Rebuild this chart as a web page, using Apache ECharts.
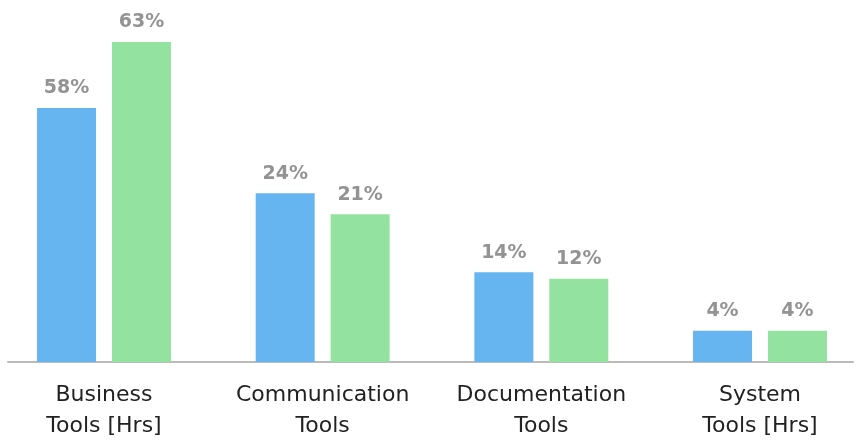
<!DOCTYPE html>
<html>
<head>
<meta charset="utf-8">
<script src="https://cdn.jsdelivr.net/npm/echarts@6/dist/echarts.min.js"></script>
<style>html,body{margin:0;padding:0;background:#fff}#c{width:856px;height:445px}</style>
</head>
<body>
<div id="c"></div>
<script>
const categories = ['Business\nTools [Hrs]', 'Communication\nTools', 'Documentation\nTools', 'System\nTools [Hrs]'];
const seriesA = [35.1, 23.3, 12.4, 4.3];
const seriesB = [44.2, 20.4, 11.5, 4.3];
const labelsA = ['58%', '24%', '14%', '4%'];
const labelsB = ['63%', '21%', '12%', '4%'];

const FONT = '"DejaVu Sans"';
const chart = echarts.init(document.getElementById('c'), null, {renderer: 'canvas'});
function mkLabel(arr) {
  return {
    show: true, position: 'top', distance: 10,
    formatter: p => arr[p.dataIndex],
    color: '#939393', fontFamily: FONT, fontWeight: 'bold', fontSize: 19
  };
}
chart.setOption({
  animation: false,
  grid: [
    {left: -5.33, right: -13.33, top: 0, bottom: 83, outerBoundsMode: 'none', containLabel: false},
    {left: 8, right: 3, top: 0, bottom: 83, outerBoundsMode: 'none'}
  ],
  xAxis: [
    {type: 'category', data: categories, gridIndex: 0,
     axisLine: {show: false}, axisTick: {show: false},
     axisLabel: {interval: 0, hideOverlap: false, color: '#222', fontFamily: FONT, fontSize: 22, lineHeight: 31, margin: 18}},
    {type: 'value', gridIndex: 1, min: 0, max: 1,
     axisLine: {show: true, lineStyle: {color: '#bbbbbb', width: 2}},
     axisTick: {show: false}, axisLabel: {show: false}, splitLine: {show: false}}
  ],
  yAxis: [
    {type: 'value', gridIndex: 0, min: 0, max: 50, show: false, splitLine: {show: false}},
    {type: 'value', gridIndex: 1, min: 0, max: 1, show: false, splitLine: {show: false}}
  ],
  series: [
    {type: 'bar', data: seriesA, barWidth: 59, barGap: '27%', itemStyle: {color: '#67b5f0'}, label: mkLabel(labelsA), z: 3},
    {type: 'bar', data: seriesB, barWidth: 59, barGap: '27%', itemStyle: {color: '#93e29f'}, label: mkLabel(labelsB), z: 3}
  ]
});
</script>
</body>
</html>
